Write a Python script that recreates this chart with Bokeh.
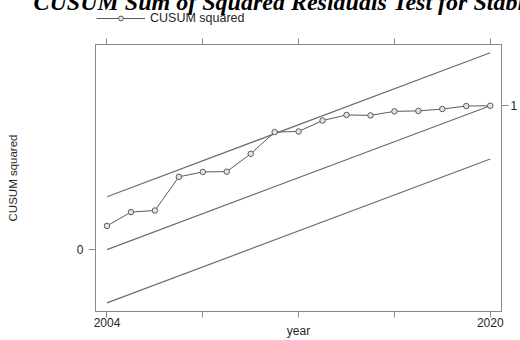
from bokeh.plotting import figure
from bokeh.layouts import column
from bokeh.models import (Range1d, LinearAxis, FixedTicker, Legend, LegendItem)
from bokeh.embed import file_html
from bokeh.resources import INLINE

# ---- data ----
years = [2004, 2005, 2006, 2007, 2008, 2009, 2010, 2011, 2012,
         2013, 2014, 2015, 2016, 2017, 2018, 2019, 2020]
cusum_sq = [0.165, 0.261, 0.272, 0.506, 0.540, 0.542, 0.666, 0.817, 0.821,
            0.897, 0.936, 0.933, 0.961, 0.964, 0.977, 0.998, 1.000]
bound_years = [2004, 2020]
expected = [0.0, 1.0]
upper = [0.368, 1.368]
lower = [-0.370, 0.630]
x_ticks = [2004, 2008, 2012, 2016, 2020]
x_tick_labels = {2004: "2004", 2008: "", 2012: "", 2016: "", 2020: "2020"}
title_text = "CUSUM Sum of Squared Residuals Test for Stability"
legend_text = "CUSUM squared"
y_label = "CUSUM squared"
x_label = "year"

TEXT = "#262626"
FRAME = "#8a8a8a"
LINE = "#6e6e6e"
SERIES = "#5a5a5a"
SANS = "Liberation Sans"
HEAD_H = 30   # visible height of the header strip
LIFT = 7      # header starts above the page top so the title is cut, as in the reference

# ---- header strip: title and legend ----
head = figure(width=520, height=HEAD_H + LIFT, output_backend="svg", toolbar_location=None,
              x_range=Range1d(0, 1), y_range=Range1d(0, 1),
              min_border_left=95, min_border_right=17, min_border_top=0,
              min_border_bottom=0, x_axis_location=None, y_axis_location=None,
              title=title_text)
head.grid.visible = False
head.outline_line_color = None
head.background_fill_color = "white"
head.border_fill_color = "white"
head.title.text_font = "Liberation Serif"
head.title.text_font_style = "bold italic"
head.title.text_font_size = "24px"
head.title.text_color = "#000000"
head.title.align = "left"
head.title.offset = -62
head.title.standoff = -13
# legend key glyphs (the series lies outside this strip's ranges, so only the key shows)
hl = head.line(years, cusum_sq, line_color=SERIES, line_width=1)
hs = head.scatter(years, cusum_sq, marker="circle", size=5.5, line_color=SERIES,
                  fill_color="#e4e4e4", line_width=1)
head.add_layout(Legend(items=[LegendItem(label=legend_text, renderers=[hl, hs])],
                       location=(1, 5), orientation="horizontal",
                       glyph_width=49, glyph_height=12, label_height=12, label_standoff=5,
                       padding=0, margin=0, spacing=0,
                       border_line_color=None, background_fill_alpha=0,
                       label_text_font=SANS, label_text_font_size="12.5px",
                       label_text_color=TEXT), "center")

# ---- main plot ----
p = figure(width=520, height=340 - HEAD_H, output_backend="svg", toolbar_location=None,
           x_range=Range1d(2003.52, 2020.47), y_range=Range1d(-0.4297, 1.4255),
           min_border_left=95, min_border_right=17, min_border_top=44 - HEAD_H,
           min_border_bottom=26, x_axis_location=None, y_axis_location=None)
p.grid.visible = False
p.outline_line_color = FRAME
p.outline_line_width = 1
p.background_fill_color = "white"
p.border_fill_color = "white"

def style_axis(ax, ticks, tick_len):
    ax.ticker = FixedTicker(ticks=ticks)
    ax.axis_line_color = FRAME
    ax.major_tick_line_color = FRAME
    ax.major_tick_out = tick_len
    ax.major_tick_in = 0
    ax.minor_tick_line_color = None
    ax.major_label_text_font = SANS
    ax.major_label_text_font_size = "12px"
    ax.major_label_text_color = TEXT

p.line(bound_years, upper, line_color=LINE, line_width=1.2)
p.line(bound_years, expected, line_color=LINE, line_width=1.2)
p.line(bound_years, lower, line_color=LINE, line_width=1.2)
p.line(years, cusum_sq, line_color=SERIES, line_width=1)
p.scatter(years, cusum_sq, marker="circle", size=5.5, line_color=SERIES,
          fill_color="#e4e4e4", line_width=1)

top = LinearAxis()
style_axis(top, x_ticks, 6)
top.major_label_text_font_size = "0px"
top.major_label_standoff = 0
p.add_layout(top, "above")

bottom = LinearAxis()
style_axis(bottom, x_ticks, 6)
bottom.major_label_overrides = x_tick_labels
bottom.major_label_standoff = 0
bottom.axis_label = x_label
bottom.axis_label_text_font = SANS
bottom.axis_label_text_font_size = "12px"
bottom.axis_label_text_font_style = "normal"
bottom.axis_label_text_color = TEXT
bottom.axis_label_standoff = -6
p.add_layout(bottom, "below")

left = LinearAxis()
style_axis(left, [0], 7)
left.major_label_standoff = 5
left.axis_label = y_label
left.axis_label_text_font = SANS
left.axis_label_text_font_size = "11.5px"
left.axis_label_text_font_style = "normal"
left.axis_label_text_color = TEXT
left.axis_label_standoff = 55
p.add_layout(left, "left")

right = LinearAxis()
style_axis(right, [1], 7)
right.major_label_standoff = 2
p.add_layout(right, "right")

page = column(head, p, spacing=0)
page.styles = {"margin-top": f"-{LIFT}px"}
open("out.html", "w").write(file_html(page, INLINE))
